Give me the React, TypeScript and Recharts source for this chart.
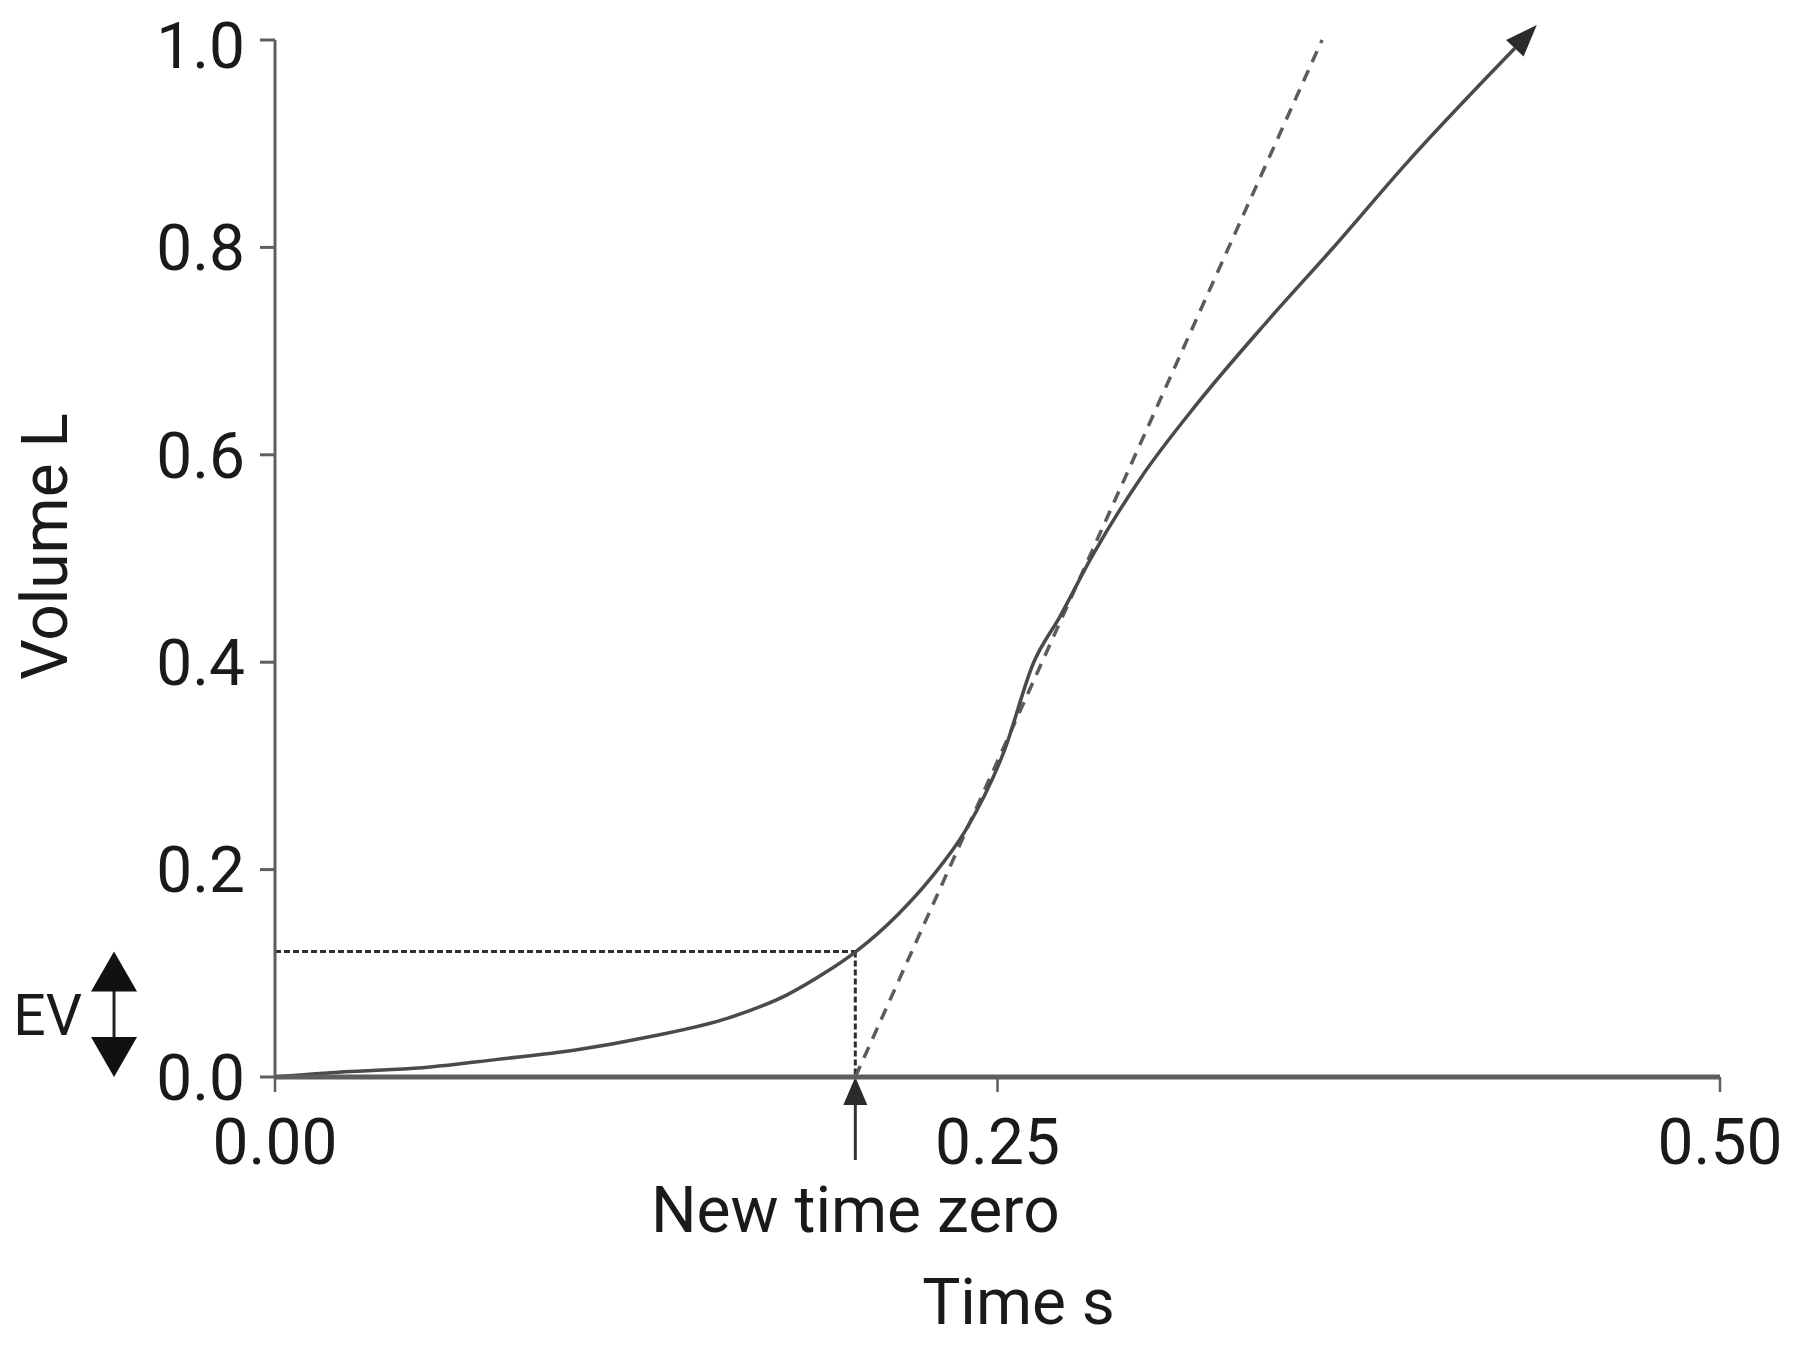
import React from "react";
import { LineChart, Line, XAxis, YAxis, ReferenceLine } from "recharts";

// volume-time curve
const timeS = [
  0, 0.024, 0.051, 0.077, 0.104, 0.13, 0.157, 0.177, 0.19, 0.201, 0.216, 0.227,
  0.239, 0.2524, 0.2624, 0.2716, 0.2829, 0.2994, 0.3193, 0.3431, 0.3656, 0.3921,
  0.429,
];
const volumeL = [
  0, 0.005, 0.009, 0.017, 0.026, 0.039, 0.057, 0.079, 0.1, 0.121, 0.158, 0.192,
  0.238, 0.315, 0.399, 0.444, 0.503, 0.577, 0.65, 0.728, 0.798, 0.883, 0.992,
];

// back-extrapolated tangent (dashed)
const tangentTime = [0.2008, 0.3623];
const tangentVolume = [0, 1.0];

const xTicks = [0, 0.25, 0.5];
const yTicks = [0, 0.2, 0.4, 0.6, 0.8, 1.0];

const newTimeZero = 0.2008;
const extrapolatedVolume = 0.121; // EV
const evBracketTime = -0.0557; // sits left of the y axis
const newZeroArrowEnd = -0.08;

const curve = timeS.map((t, i) => ({ t, v: volumeL[i] }));
const tangent = tangentTime.map((t, i) => ({ t, v: tangentVolume[i] }));

const FONT = "Roboto, 'DejaVu Sans', sans-serif";
const INK = "#1a1a1a";

function arrowHeadDot(props: any) {
  const { cx, cy, index, points } = props;
  const key = `dot-${index}`;
  if (index !== timeS.length - 1) return <g key={key} />;
  const prev = points && index > 0 ? points[index - 1] : null;
  const a = prev ? Math.atan2(cy - prev.y, cx - prev.x) : -0.82;
  const len = 32;
  const half = 12;
  const tipX = cx + len * Math.cos(a);
  const tipY = cy + len * Math.sin(a);
  const nx = -Math.sin(a) * half;
  const ny = Math.cos(a) * half;
  return (
    <path
      key={key}
      d={`M${tipX},${tipY}L${cx + nx},${cy + ny}L${cx - nx},${cy - ny}Z`}
      fill="#2b2b2b"
    />
  );
}

function NewZeroArrow(props: any) {
  const { x1, y1, x2, y2 } = props;
  const x = (x1 + x2) / 2;
  const top = Math.min(y1, y2);
  const bottom = Math.max(y1, y2);
  return (
    <g>
      <line x1={x} y1={bottom} x2={x} y2={top + 20} stroke="#333" strokeWidth={3} />
      <path d={`M${x},${top}L${x - 12},${top + 28}L${x + 12},${top + 28}Z`} fill="#2b2b2b" />
      <text x={x} y={bottom + 72} textAnchor="middle" fontSize={64} fill={INK} fontFamily={FONT}>
        New time zero
      </text>
    </g>
  );
}

function EvBracket(props: any) {
  const { x1, y1, x2, y2 } = props;
  const x = (x1 + x2) / 2;
  const top = Math.min(y1, y2);
  const bottom = Math.max(y1, y2);
  return (
    <g>
      <line x1={x} y1={top + 30} x2={x} y2={bottom - 30} stroke="#222" strokeWidth={3} />
      <path d={`M${x},${top}L${x - 23},${top + 40}L${x + 23},${top + 40}Z`} fill="#111" />
      <path d={`M${x},${bottom}L${x - 23},${bottom - 40}L${x + 23},${bottom - 40}Z`} fill="#111" />
      <text
        x={x - 32}
        y={(top + bottom) / 2 + 21}
        textAnchor="end"
        fontSize={57}
        fill={INK}
        fontFamily={FONT}
      >
        EV
      </text>
    </g>
  );
}

function TimeLabel(props: any) {
  const vb = props.viewBox || { x: 267, y: 1069, width: 1445, height: 264 };
  return (
    <text
      x={vb.x + vb.width / 2 + 21}
      y={vb.y + 247}
      textAnchor="middle"
      fontSize={64}
      fill={INK}
      fontFamily={FONT}
    >
      Time s
    </text>
  );
}

function VolumeLabel(props: any) {
  const vb = props.viewBox || { x: 0, y: 32, width: 267, height: 1037 };
  const cx = vb.x + 37;
  const cy = vb.y + vb.height / 2 - 12;
  return (
    <text
      x={cx}
      y={cy}
      transform={`rotate(-90 ${cx} ${cy})`}
      textAnchor="middle"
      dominantBaseline="central"
      fontSize={64}
      fill={INK}
      fontFamily={FONT}
    >
      Volume L
    </text>
  );
}

export default function App() {
  const tickStyle = { fontSize: 64, fill: INK, fontFamily: FONT };
  return (
    <div style={{ width: 1784, height: 1333, fontFamily: FONT, background: "#fff" }}>
      <LineChart width={1784} height={1333} margin={{ top: 32, right: 72, bottom: 0, left: 0 }}>
        <XAxis
          dataKey="t"
          type="number"
          domain={[0, 0.5]}
          ticks={xTicks}
          tickFormatter={(v: number) => v.toFixed(2)}
          tick={tickStyle}
          tickSize={15}
          tickMargin={27}
          height={264}
          axisLine={{ stroke: "#5e5e5e", strokeWidth: 5 }}
          tickLine={{ stroke: "#5e5e5e", strokeWidth: 2.5 }}
          label={{ content: TimeLabel }}
        />
        <YAxis
          type="number"
          domain={[0, 1]}
          ticks={yTicks}
          tickFormatter={(v: number) => v.toFixed(1)}
          tick={tickStyle}
          tickSize={15}
          tickMargin={15}
          width={267}
          axisLine={{ stroke: "#5e5e5e", strokeWidth: 3 }}
          tickLine={{ stroke: "#5e5e5e", strokeWidth: 3 }}
          label={{ content: VolumeLabel }}
        />
        <ReferenceLine
          segment={[
            { x: 0, y: extrapolatedVolume },
            { x: newTimeZero, y: extrapolatedVolume },
          ]}
          stroke="#2e2e2e"
          strokeWidth={3}
          strokeDasharray="6 3"
          ifOverflow="visible"
        />
        <ReferenceLine
          segment={[
            { x: newTimeZero, y: extrapolatedVolume },
            { x: newTimeZero, y: 0 },
          ]}
          stroke="#2e2e2e"
          strokeWidth={3}
          strokeDasharray="6 3"
          ifOverflow="visible"
        />
        <ReferenceLine
          segment={[
            { x: newTimeZero, y: 0 },
            { x: newTimeZero, y: newZeroArrowEnd },
          ]}
          ifOverflow="visible"
          shape={NewZeroArrow}
        />
        <ReferenceLine
          segment={[
            { x: evBracketTime, y: 0 },
            { x: evBracketTime, y: extrapolatedVolume },
          ]}
          ifOverflow="visible"
          shape={EvBracket}
        />
        <Line
          data={tangent}
          dataKey="v"
          type="linear"
          stroke="#5c5c5c"
          strokeWidth={3.5}
          strokeDasharray="12 9"
          dot={false}
          isAnimationActive={false}
        />
        <Line
          data={curve}
          dataKey="v"
          type="monotone"
          stroke="#4a4a4a"
          strokeWidth={3.5}
          dot={arrowHeadDot}
          activeDot={false}
          isAnimationActive={false}
        />
      </LineChart>
    </div>
  );
}
